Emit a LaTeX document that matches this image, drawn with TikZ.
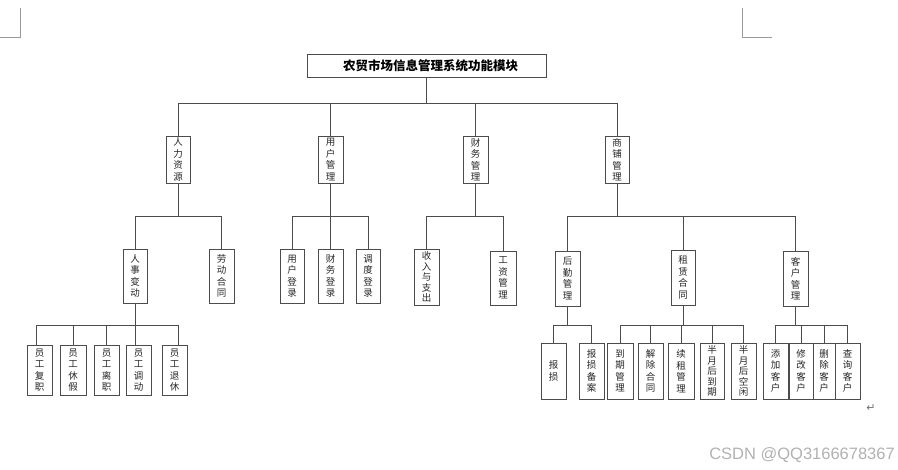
\documentclass[tikz,border=0pt]{standalone}
\usepackage{fontspec}
\newfontfamily\cjk{Noto Sans CJK SC}
\newfontfamily\wmfont{Liberation Sans}
\newfontfamily\symfont{DejaVu Sans}
\begin{document}
\begin{tikzpicture}[x=1pt,y=-1pt,
  line/.style={draw=black!70, line width=0.9pt},
  vbox/.style={draw=black!70, line width=0.9pt, fill=white, inner sep=0pt, align=center,
    font=\cjk\fontsize{9.5}{11.5}\selectfont, text=black!85},
  titlebox/.style={draw=black!70, line width=0.9pt, inner sep=0pt,
    font=\cjk\bfseries\fontsize{12.5}{14}\selectfont, text=black},
  cornermark/.style={draw=black!40, line width=0.8pt}]
\useasboundingbox (0,0) rectangle (898,470);
\fill[white] (0,0) rectangle (898,470);
% page corner marks
\draw[cornermark] (20,8) -- (20,37) -- (0,37);
\draw[cornermark] (742,8) -- (742,37) -- (772,37);
% title
\node[titlebox, minimum width=239, minimum height=23] (top) at (426.5,65.5) {\hspace*{8pt}农贸市场信息管理系统功能模块};
% level 1
\node[vbox, minimum width=24, minimum height=47] (hr) at (178,159.5) {人\\力\\资\\源};
\node[vbox, minimum width=25, minimum height=47] (yh) at (330.5,159.5) {用\\户\\管\\理};
\node[vbox, minimum width=25, minimum height=47] (cw) at (475.5,159.5) {财\\务\\管\\理};
\node[vbox, minimum width=24, minimum height=47] (sp) at (617,159.5) {商\\铺\\管\\理};
% level 2
\node[vbox, minimum width=24, minimum height=54] (rs) at (135,276) {人\\事\\变\\动};
\node[vbox, minimum width=25, minimum height=54] (ld) at (221.5,276) {劳\\动\\合\\同};
\node[vbox, minimum width=24, minimum height=54] (yhdl) at (292,276) {用\\户\\登\\录};
\node[vbox, minimum width=25, minimum height=54] (cwdl) at (330.5,276) {财\\务\\登\\录};
\node[vbox, minimum width=24, minimum height=54] (dddl) at (368,276) {调\\度\\登\\录};
\node[vbox, minimum width=25, minimum height=56, font=\cjk\fontsize{9.5}{10.5}\selectfont] (sr) at (426.5,277) {收\\入\\与\\支\\出};
\node[vbox, minimum width=26, minimum height=54] (gz) at (503,278) {工\\资\\管\\理};
\node[vbox, minimum width=25, minimum height=55] (hq) at (567.5,278.5) {后\\勤\\管\\理};
\node[vbox, minimum width=24, minimum height=55] (zl) at (683,277.5) {租\\赁\\合\\同};
\node[vbox, minimum width=25, minimum height=55] (kh) at (795.5,278.5) {客\\户\\管\\理};
% level 3 left
\node[vbox, minimum width=25, minimum height=50] (y1) at (39.5,370) {员\\工\\复\\职};
\node[vbox, minimum width=26, minimum height=50] (y2) at (73,370) {员\\工\\休\\假};
\node[vbox, minimum width=25, minimum height=50] (y3) at (106.5,370) {员\\工\\离\\职};
\node[vbox, minimum width=25, minimum height=50] (y4) at (138.5,370) {员\\工\\调\\动};
\node[vbox, minimum width=25, minimum height=50] (y5) at (174.5,370) {员\\工\\退\\休};
% level 3 right
\node[vbox, minimum width=25, minimum height=56] (bs) at (553.5,371) {报\\损};
\node[vbox, minimum width=25, minimum height=56] (bsba) at (591.5,371) {报\\损\\备\\案};
\node[vbox, minimum width=26, minimum height=56] (dq) at (620,371) {到\\期\\管\\理};
\node[vbox, minimum width=25, minimum height=56] (jc) at (650.5,371) {解\\除\\合\\同};
\node[vbox, minimum width=26, minimum height=56] (xz) at (681,371) {续\\租\\管\\理};
\node[vbox, minimum width=24, minimum height=56, font=\cjk\fontsize{9.5}{10.5}\selectfont] (bd) at (712,371) {半\\月\\后\\到\\期};
\node[vbox, minimum width=25, minimum height=56, font=\cjk\fontsize{9.5}{10.5}\selectfont] (bk) at (743.5,371) {半\\月\\后\\空\\闲};
\node[vbox, minimum width=25, minimum height=56] (tj) at (775.5,371) {添\\加\\客\\户};
\node[vbox, minimum width=24, minimum height=56] (xg) at (801,371) {修\\改\\客\\户};
\node[vbox, minimum width=22, minimum height=56] (sc) at (824,371) {删\\除\\客\\户};
\node[vbox, minimum width=25, minimum height=56] (cx) at (847.5,371) {查\\询\\客\\户};
% bus levels
\coordinate (b0) at (0,103);
\coordinate (b1) at (0,216);
\coordinate (b2) at (0,325.5);
% connectors level 1
\foreach \c in {hr,yh,cw,sp} \draw[line] (top.south) -- (top.south |- b0) -| (\c.north);
% level 2
\foreach \c in {rs,ld} \draw[line] (hr.south) -- (hr.south |- b1) -| (\c.north);
\foreach \c in {yhdl,cwdl,dddl} \draw[line] (yh.south) -- (yh.south |- b1) -| (\c.north);
\foreach \c in {sr,gz} \draw[line] (cw.south) -- (cw.south |- b1) -| (\c.north);
\foreach \c in {hq,zl,kh} \draw[line] (sp.south) -- (sp.south |- b1) -| (\c.north);
% level 3
\draw[line] (rs.south) -- (rs.south |- b2) -| ([xshift=-3.5pt]y1.north);
\foreach \c in {y2,y3} \draw[line] (rs.south) -- (rs.south |- b2) -| (\c.north);
\draw[line] (rs.south) -- (rs.south |- y4.north);
\draw[line] (rs.south) -- (rs.south |- b2) -| ([xshift=3.5pt]y5.north);
\foreach \c in {bs,bsba} \draw[line] (hq.south) -- (hq.south |- b2) -| (\c.north);
\foreach \c in {dq,jc,xz,bd,bk} \draw[line] (zl.south) -- (zl.south |- b2) -| (\c.north);
\foreach \c in {tj,xg,sc,cx} \draw[line] (kh.south) -- (kh.south |- b2) -| (\c.north);
% return mark and watermark
\node[font=\symfont\fontsize{11}{12}\selectfont, text=black!55, inner sep=0pt] (ret) at (871,408) {↵};
\node[font=\wmfont\fontsize{16.5}{18}\selectfont, text=black!30, anchor=east, inner sep=0pt] (wm) at (895,455) {CSDN @QQ3166678367};
\end{tikzpicture}
\end{document}
